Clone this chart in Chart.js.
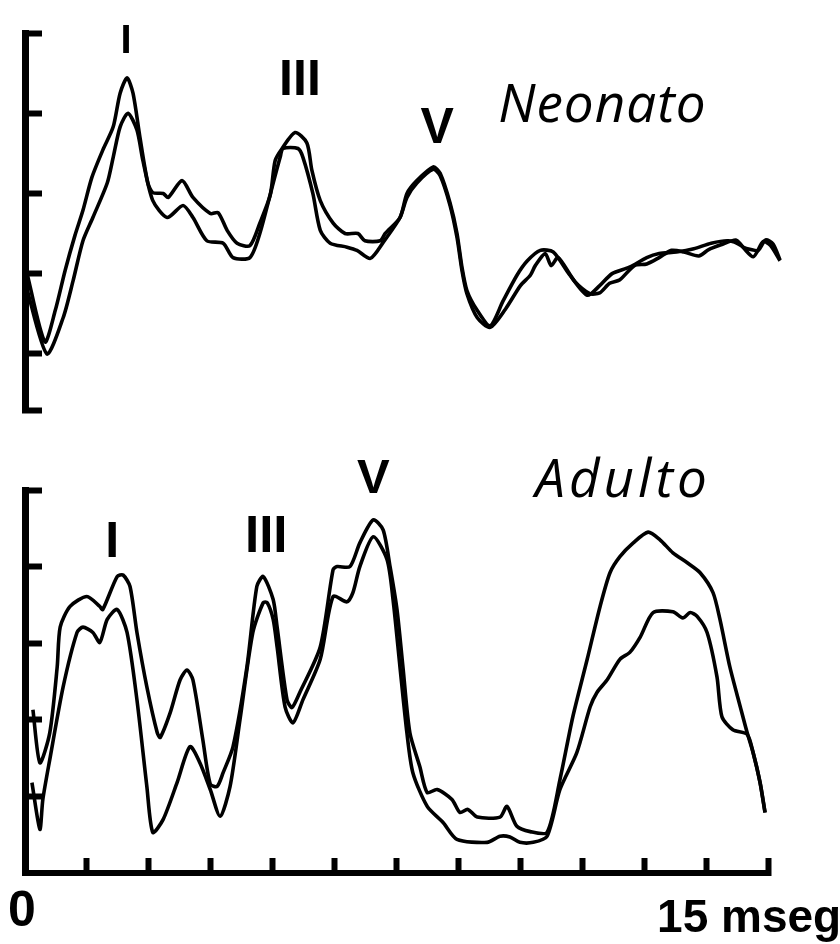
<!DOCTYPE html>
<html>
<head>
<meta charset="utf-8">
<script src="https://cdn.jsdelivr.net/npm/chart.js@4.4.1/dist/chart.umd.min.js"></script>
<style>
  html, body { margin: 0; padding: 0; background: #fff; }
  #wrap { position: relative; width: 840px; height: 944px; }
  canvas { position: absolute; left: 0; }
  #neo { top: 0; }
  #adu { top: 440px; }
</style>
</head>
<body>
<div id="wrap">
  <canvas id="neo" width="840" height="440"></canvas>
  <canvas id="adu" width="840" height="504"></canvas>
</div>
<script>
// time in ms, amplitude in axis divisions

// Neonato, trace 1 (higher wave I)
const neoT1 = [0.02,0.40,0.61,0.81,1.01,1.17,1.35,1.57,1.78,1.92,2.06,2.18,2.32,2.48,2.58,2.79,2.89,3.17,3.39,3.74,3.90,4.08,4.28,4.54,4.74,4.95,5.05,5.19,5.45,5.69,5.79,5.96,6.22,6.46,6.72,6.86,7.17,7.27,7.57,7.71,7.91,8.24,8.38,8.58,8.72,8.82,8.92,9.13,9.39,9.65,9.93,10.14,10.40,10.66,11.00,11.35,11.60,11.85,12.20,12.55,12.80,13.15,13.50,13.85,14.20,14.45,14.70,14.90,15.05,15.24];
const neoV1 = [1.06,0.15,0.54,1.04,1.48,1.79,2.20,2.54,2.83,3.25,3.44,3.25,2.70,2.13,2.01,2.00,1.95,2.16,1.95,1.75,1.76,1.54,1.38,1.35,1.63,1.98,2.41,2.56,2.76,2.63,2.29,1.91,1.63,1.50,1.50,1.41,1.41,1.50,1.70,2.00,2.16,2.33,2.25,1.88,1.50,1.08,0.79,0.54,0.35,0.66,0.98,1.16,1.29,1.27,0.98,0.73,0.85,1.00,1.08,1.20,1.25,1.27,1.31,1.38,1.41,1.35,1.21,1.40,1.35,1.16];

// Neonato, trace 2
const neoT2 = [0.02,0.44,0.77,0.97,1.17,1.37,1.66,1.78,1.92,2.08,2.26,2.38,2.58,2.87,3.19,3.39,3.67,4.00,4.20,4.54,4.74,5.01,5.15,5.21,5.51,5.61,5.81,5.96,6.16,6.50,6.70,6.97,7.23,7.57,7.71,7.91,8.24,8.38,8.58,8.72,8.82,8.92,9.13,9.39,9.70,10.00,10.20,10.30,10.50,10.62,10.76,11.10,11.40,11.60,11.80,12.00,12.30,12.55,12.80,13.05,13.30,13.60,13.80,14.05,14.35,14.50,14.65,14.80,14.95,15.10,15.24];
const neoV2 = [0.85,0.00,0.45,0.91,1.41,1.70,2.13,2.45,2.83,3.00,2.79,2.41,1.91,1.70,1.85,1.70,1.41,1.38,1.20,1.20,1.50,2.13,2.45,2.56,2.56,2.45,2.00,1.54,1.38,1.33,1.29,1.19,1.39,1.70,1.95,2.13,2.30,2.22,1.85,1.45,1.04,0.75,0.45,0.33,0.56,0.85,0.98,1.10,1.25,1.10,1.20,0.90,0.75,0.76,0.88,0.92,1.10,1.12,1.20,1.29,1.27,1.22,1.30,1.36,1.42,1.33,1.30,1.29,1.42,1.37,1.17];

// Adulto, trace 1 (larger)
const aduT1 = [0.16,0.30,0.50,0.65,0.71,0.91,1.25,1.51,1.57,1.86,1.98,2.12,2.26,2.46,2.67,2.73,2.93,3.13,3.27,3.39,3.59,3.74,3.88,4.00,4.20,4.48,4.68,4.81,5.01,5.09,5.29,5.39,5.55,5.96,6.22,6.30,6.56,6.76,7.03,7.23,7.37,7.51,7.63,7.77,7.97,8.12,8.32,8.62,8.78,8.94,9.13,9.59,9.73,9.93,10.20,10.54,10.80,11.06,11.35,11.61,11.81,12.01,12.28,12.58,12.82,13.08,13.37,13.63,13.89,14.03,14.23,14.44,14.58,14.70,14.84,14.94];
const aduV1 = [1.13,0.44,0.83,1.69,2.21,2.48,2.61,2.48,2.44,2.87,2.89,2.74,2.14,1.43,0.83,0.77,1.09,1.52,1.65,1.52,0.74,0.16,0.13,0.31,0.65,1.69,2.74,2.87,2.57,2.21,1.26,1.16,1.36,1.95,2.96,3.00,3.00,3.31,3.61,3.48,3.00,2.44,1.69,0.83,0.39,0.05,0.09,-0.04,-0.21,-0.17,-0.27,-0.27,-0.13,-0.39,-0.46,-0.47,0.22,1.04,1.79,2.48,2.92,3.13,3.31,3.45,3.35,3.18,3.05,2.92,2.66,2.31,1.69,1.17,0.83,0.57,0.18,-0.21];

// Adulto, trace 2
const aduT2 = [0.14,0.30,0.36,0.50,0.77,1.05,1.17,1.37,1.51,1.66,1.86,2.06,2.26,2.46,2.58,2.79,3.07,3.33,3.53,3.74,3.94,4.14,4.34,4.60,4.81,4.89,5.01,5.09,5.25,5.41,5.61,5.96,6.22,6.50,6.62,6.76,7.03,7.31,7.43,7.57,7.71,7.83,8.12,8.44,8.72,9.33,9.59,9.79,9.99,10.26,10.54,10.80,11.14,11.41,11.55,11.75,12.01,12.21,12.42,12.68,13.08,13.28,13.43,13.57,13.77,13.97,14.07,14.29,14.58,14.70,14.84,14.94];
const aduV2 = [0.18,-0.43,-0.04,0.48,1.43,2.14,2.21,2.14,2.01,2.31,2.44,2.14,1.26,0.13,-0.47,-0.30,0.18,0.65,0.44,0.09,-0.26,0.13,1.00,2.14,2.53,2.53,2.31,1.95,1.17,0.96,1.26,1.79,2.61,2.54,2.66,3.00,3.39,3.09,2.57,1.69,0.83,0.31,-0.13,-0.34,-0.56,-0.60,-0.52,-0.53,-0.60,-0.60,-0.52,0.09,0.57,1.17,1.36,1.52,1.79,1.88,2.08,2.40,2.41,2.33,2.40,2.35,2.14,1.56,1.04,0.87,0.81,0.57,0.18,-0.21];

// axis ticks
const xTickValues = [1.25, 2.5, 3.75, 5, 6.25, 7.5, 8.75, 10, 11.25, 12.5, 13.75, 15];
const neoYTicks = [-0.7, 0, 1, 2, 3, 4];
const aduYTicks = [0, 1, 2, 3, 4];

// text labels, anchored in data units
const neoText = ['I', 'III', 'V', 'Neonato'];
const neoTextX = [2.04, 5.55, 8.32, 9.55];
const neoTextY = [3.75, 3.23, 2.63, 2.89];
const aduText = ['I', 'III', 'V', 'Adulto', '0', '15 mseg'];
const aduTextX = [1.76, 4.87, 7.03, 10.30, -0.06, 12.76];
const aduTextY = [3.13, 3.19, 3.96, 3.91, -1.69, -1.77];

const BOLD = '"Liberation Sans", Arial, sans-serif';
const ITAL = '"Open Sans", sans-serif';
const neoFonts = ['bold 40px ' + BOLD, 'bold 50px ' + BOLD, 'bold 50px ' + BOLD, 'italic 500 53px ' + ITAL];
const neoAlign = ['center', 'center', 'center', 'left'];
const neoSpacing = ['0px', '0px', '0px', '1px'];
const aduFonts = ['bold 50px ' + BOLD, 'bold 51px ' + BOLD, 'bold 49px ' + BOLD, 'italic 500 53px ' + ITAL, 'bold 50px ' + BOLD, 'bold 46px ' + BOLD];
const aduAlign = ['center', 'center', 'center', 'left', 'center', 'left'];
const aduSpacing = ['0px', '0px', '0px', '4px', '0px', '0px'];

function zip(ts, vs) {
    return ts.map((t, i) => ({ x: t, y: vs[i] }));
}

function textPlugin(texts, xs, ys, fonts, aligns, spacing) {
    return {
        id: 'peakText',
        afterDraw(chart) {
            const ctx = chart.ctx;
            const sx = chart.scales.x;
            const sy = chart.scales.y;
            ctx.save();
            ctx.fillStyle = '#000';
            ctx.textBaseline = 'alphabetic';
            texts.forEach((t, i) => {
                ctx.font = fonts[i];
                ctx.textAlign = aligns[i];
                ctx.letterSpacing = spacing[i];
                ctx.fillText(t, sx.getPixelForValue(xs[i]), sy.getPixelForValue(ys[i]));
            });
            ctx.restore();
        }
    };
}

function trace(ts, vs) {
    return {
        data: zip(ts, vs),
        borderColor: '#000',
        borderWidth: 3.6,
        pointRadius: 0,
        tension: 0.25,
        fill: false
    };
}

function makeChart(id, datasets, cfg) {
    return new Chart(document.getElementById(id), {
        type: 'line',
        data: { datasets: datasets },
        options: {
            responsive: false,
            animation: false,
            layout: { padding: cfg.padding },
            plugins: { legend: { display: false }, tooltip: { enabled: false } },
            scales: {
                x: {
                    type: 'linear',
                    min: 0,
                    max: cfg.xMax,
                    display: cfg.showX,
                    afterBuildTicks: s => { s.ticks = xTickValues.map(v => ({ value: v })); },
                    afterFit: s => { if (cfg.showX) s.height = 71; },
                    ticks: { display: false },
                    grid: { drawOnChartArea: false, tickLength: -15, tickWidth: 6, tickColor: '#000' },
                    border: { color: '#000', width: 6 }
                },
                y: {
                    type: 'linear',
                    min: cfg.yMin,
                    max: cfg.yMax,
                    afterBuildTicks: s => { s.ticks = cfg.yTicks.map(v => ({ value: v })); },
                    afterFit: s => { s.width = 25; },
                    ticks: { display: false },
                    grid: { drawOnChartArea: false, tickLength: -17, tickWidth: 6, tickColor: '#000' },
                    border: { color: '#000', width: 7 }
                }
            }
        },
        plugins: [cfg.plugin]
    });
}

makeChart('neo', [trace(neoT1, neoV1), trace(neoT2, neoV2)], {
    padding: { left: 0, right: 57, top: 33, bottom: 30 },
    xMax: 15.3, showX: false,
    yMin: -0.7, yMax: 4, yTicks: neoYTicks,
    plugin: textPlugin(neoText, neoTextX, neoTextY, neoFonts, neoAlign, neoSpacing)
});

makeChart('adu', [trace(aduT1, aduV1), trace(aduT2, aduV2)], {
    padding: { left: 0, right: 72, top: 50, bottom: 0 },
    xMax: 15, showX: true,
    yMin: -1, yMax: 4, yTicks: aduYTicks,
    plugin: textPlugin(aduText, aduTextX, aduTextY, aduFonts, aduAlign, aduSpacing)
});
</script>
</body>
</html>
